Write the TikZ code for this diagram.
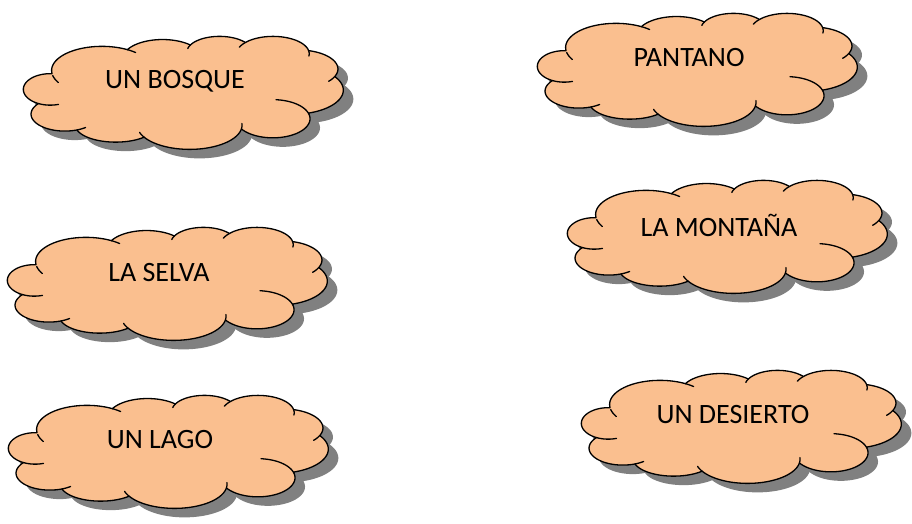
\documentclass[tikz,border=0pt]{standalone}
\usepackage{fontspec}
\setmainfont{Carlito}
\definecolor{cloudfill}{HTML}{FABF8F}
\definecolor{cloudshadow}{HTML}{808080}
\newcommand\cloudshape{plot[domain=-187.75:-59.64] ({1059.1+675.3*cos(\x)},{1313.1+919.0*sin(\x)})
 -- plot[domain=-152.03:-45.45] ({1871.5+533.3*cos(\x)},{861.0+726.7*sin(\x)})
 -- plot[domain=-153.50:-37.33] ({2636.2+436.5*cos(\x)},{608.4+594.5*sin(\x)})
 -- plot[domain=-139.72:-10.22] ({3353.8+485.7*cos(\x)},{674.2+659.5*sin(\x)})
 -- plot[domain=-74.77:23.22] ({3691.7+533.3*cos(\x)},{1258.9+727.3*sin(\x)})
 -- plot[domain=-33.95:72.08] ({3619.8+677.5*cos(\x)},{2060.5+922.0*sin(\x)})
 -- plot[domain=-17.19:147.72] ({3351.7+498.8*cos(\x)},{3152.7+727.3*sin(\x)})
 -- plot[domain=8.76:150.4] ({2235.5+702.7*cos(\x)},{3401.0+919.0*sin(\x)})
 -- plot[domain=45.17:163.47] ({1243.1+541.0*cos(\x)},{3394.0+650.0*sin(\x)})
 -- plot[domain=68.8:218.6] ({561.0+453.0*cos(\x)},{2977.0+646.0*sin(\x)})
 -- plot[domain=115.9:274.1] ({364.5+360.0*cos(\x)},{2035.0+599.5*sin(\x)})
 -- cycle}
\newcommand\creases{plot[domain=-192:-210] ({1059.1+675.3*cos(\x)},{1313.1+919.0*sin(\x)})
 plot[domain=115.9:72] ({364.5+360.0*cos(\x)},{2035.0+599.5*sin(\x)})
 plot[domain=68.8:52] ({561.0+453.0*cos(\x)},{2977.0+646.0*sin(\x)})
 plot[domain=150.4:163] ({2235.5+702.7*cos(\x)},{3401.0+919.0*sin(\x)})
 plot[domain=8.76:-4] ({2235.5+702.7*cos(\x)},{3401.0+919.0*sin(\x)})
 plot[domain=-17.19:-85] ({3351.7+498.8*cos(\x)},{3152.7+727.3*sin(\x)})
 plot[domain=23.22:40] ({3691.7+533.3*cos(\x)},{1258.9+727.3*sin(\x)})
 plot[domain=-10.22:8] ({3353.8+485.7*cos(\x)},{674.2+659.5*sin(\x)})
 plot[domain=-158:-139.72] ({3353.8+485.7*cos(\x)},{674.2+659.5*sin(\x)})
 plot[domain=-167:-153.5] ({2636.2+436.5*cos(\x)},{608.4+594.5*sin(\x)})
 plot[domain=-59.64:-48] ({1059.1+675.3*cos(\x)},{1313.1+919.0*sin(\x)})}
\tikzset{
 cloudbody/.style={fill=cloudfill, draw=black, line width=1.3pt, line join=round},
 cloudcrease/.style={draw=black, line width=1.3pt, line cap=round},
 cloudshade/.style={fill=cloudshadow},
 cloudtext/.style={font=\fontsize{28}{32}\selectfont, inner sep=0pt}
}
\newcommand\mycloud[4]{%
 \begin{scope}[shift={(#2+10,#3+9)},x=0.07454pt,y=-0.02624pt,samples=40]
  \path[cloudshade] \cloudshape;
 \end{scope}
 \begin{scope}[shift={(#2,#3)},x=0.07454pt,y=-0.02624pt,samples=40]
  \path[cloudbody] \cloudshape;
  \path[cloudcrease] \creases;
  \node[cloudtext] (#1) at (2039,1715) {#4};
 \end{scope}}
\begin{document}
\begin{tikzpicture}[x=1pt,y=-1pt]
\useasboundingbox[fill=white] (0,0) rectangle (912,524);
\mycloud{bosque}{23}{36}{UN BOSQUE}
\mycloud{selva}{7}{227}{LA SELVA}
\mycloud{lago}{8}{395}{UN LAGO}
\mycloud{pantano}{537}{13}{PANTANO}
\mycloud{montana}{567}{180}{LA MONTAÑA}
\mycloud{desierto}{581}{370}{UN DESIERTO}
\end{tikzpicture}
\end{document}
